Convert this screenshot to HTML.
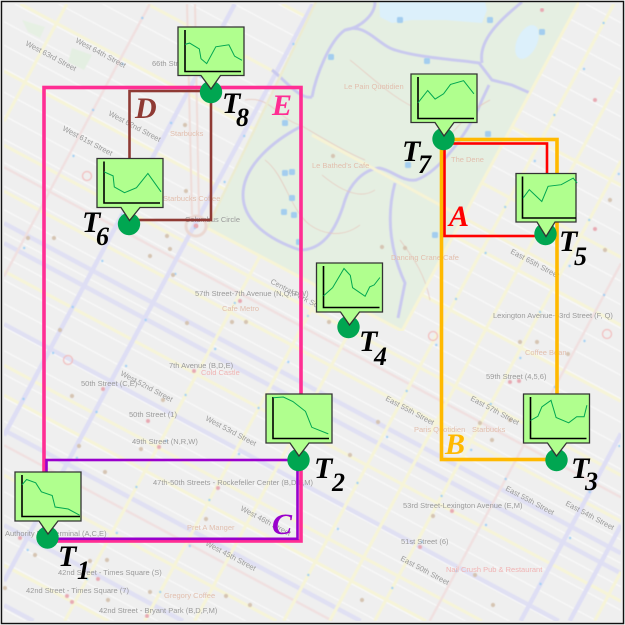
<!DOCTYPE html>
<html>
<head>
<meta charset="utf-8">
<title>Map with trajectory sparklines</title>
<style>
html,body{margin:0;padding:0;background:#fff;width:625px;height:625px;overflow:hidden}
svg{display:block}
.tag{font-family:"Liberation Serif",serif;font-weight:bold;font-style:italic;font-size:30px}
.sub{font-family:"Liberation Serif",serif;font-weight:bold;font-style:italic;font-size:26px;fill:#000}
.lbl{font-family:"Liberation Sans",sans-serif;font-size:7.5px;fill:#9a9a9a}
.poi{font-family:"Liberation Sans",sans-serif;font-size:7.5px;fill:#e2bfae}
.red{font-family:"Liberation Sans",sans-serif;font-size:7.5px;fill:#f0b4b4}
.box{fill:#b0ff8e;stroke:#333;stroke-width:1.3}
.axis{stroke:#000;stroke-width:1.6;fill:none}
.spark{stroke:#00a651;stroke-width:1;fill:none}
.pin{fill:#00a651}
</style>
</head>
<body>
<svg id="chart" width="625" height="625" viewBox="0 0 625 625" xmlns="http://www.w3.org/2000/svg">
  <defs>
    <filter id="soft" x="0" y="0" width="100%" height="100%"><feGaussianBlur stdDeviation="0.5"/></filter>
    <filter id="softtext" x="-5%" y="-5%" width="110%" height="110%"><feGaussianBlur stdDeviation="0.3"/></filter>
  </defs>

  <g>
    <rect x="0" y="0" width="625" height="625" fill="#efefef"/>
    <g id="streets" filter="url(#soft)"></g>
    <g filter="url(#soft)">
      <polygon points="316,2 207,228 402,331 579,2" fill="#e5efe2"/>
      <polygon points="22,20 45,27 40,38 28,32" fill="#e6f0e3"/>
      <polygon points="72,48 92,55 84,70 68,62" fill="#e4efe2"/>
      <path d="M379,2 L380,17 L392,23 L412,20 L445,20 L482,23 L487,10 L485,2 Z" fill="#dcf0fb"/>
      <ellipse cx="527" cy="42" rx="10" ry="18" transform="rotate(25 527 42)" fill="#dcf0fb"/>
      <g fill="none" stroke="#c9c9ee" stroke-width="3">
        <path d="M300,127 C275,140 243,165 243,195 C243,222 270,240 300,250 C320,250 335,235 345,200 C350,185 362,170 379,168 C392,170 402,182 416,180 C440,172 470,130 482,100 L489,85"/>
        <path d="M312,97 C316,75 330,40 345,30 C365,22 378,45 395,50 C420,58 460,60 479,63 L492,80 L512,85 L530,93"/>
        <path d="M482,63 C478,40 500,20 522,2"/>
        <path d="M345,30 C360,28 375,15 375,2"/>
        <path d="M395,183 C385,220 392,255 405,283 L398,318"/>
        <path d="M272,70 C285,80 300,100 312,97"/>
      </g>
      <g fill="none" stroke="#e6c4ba" stroke-width="0.7">
        <path d="M245,100 C270,95 280,120 300,125 C310,130 340,150 365,160"/>
        <path d="M265,160 C285,175 290,210 310,225 C320,232 340,240 360,225"/>
        <path d="M350,60 C375,80 395,100 420,110"/>
        <path d="M400,240 C415,260 425,275 430,300"/>
        <path d="M490,100 C470,110 460,125 450,135"/>
        <path d="M322,175 C340,190 360,200 375,190"/>
      </g>
      <path d="M207,228 L402,331" stroke="#f7f4d6" stroke-width="3" fill="none"/>
      <path d="M316,2 L207,228" stroke="#ecebd0" stroke-width="2.5" fill="none"/>
      <path d="M579,2 L402,331" stroke="#f7f4d6" stroke-width="3" fill="none"/>
      <path d="M312,135 L440,205 L560,270" stroke="#f6f3d5" stroke-width="3" fill="none"/>
      <circle cx="196" cy="226" r="10" fill="none" stroke="#ebd8d2" stroke-width="3"/>
      <circle cx="196" cy="226" r="2" fill="#eb9aa0"/>
    </g>
    <g id="dots" filter="url(#soft)"></g>
    <g filter="url(#softtext)">
      <text class="lbl" x="152" y="66">66th Street</text>
      <text class="poi" x="170" y="136">Starbucks</text>
      <text class="poi" x="163" y="201">Starbucks Coffee</text>
      <text class="poi" x="344" y="89">Le Pain Quotidien</text>
      <text class="poi" x="451" y="162">The Dene</text>
      <text class="poi" x="312" y="168">Le Bathed's Cafe</text>
      <text class="poi" x="391" y="260">Dancing Crane Cafe</text>
      <text class="lbl" x="195" y="296">57th Street-7th Avenue (N,Q,R,W)</text>
      <text class="poi" x="222" y="311">Cafe Metro</text>
      <text class="lbl" x="185" y="222">Columbus Circle</text>
      <text class="lbl" x="81" y="386">50th Street (C,E)</text>
      <text class="lbl" x="129" y="417">50th Street (1)</text>
      <text class="lbl" x="132" y="444">49th Street (N,R,W)</text>
      <text class="lbl" x="169" y="368">7th Avenue (B,D,E)</text>
      <text class="red" x="201" y="375">Cold Castle</text>
      <text class="lbl" x="153" y="485">47th-50th Streets - Rockefeller Center (B,D,F,M)</text>
      <text class="poi" x="187" y="530">Pret A Manger</text>
      <text class="lbl" x="58" y="575">42nd Street - Times Square (S)</text>
      <text class="lbl" x="26" y="593">42nd Street - Times Square (7)</text>
      <text class="lbl" x="99" y="613">42nd Street - Bryant Park (B,D,F,M)</text>
      <text class="lbl" x="5" y="536">Authority Bus Terminal (A,C,E)</text>
      <text class="poi" x="164" y="598">Gregory Coffee</text>
      <text class="lbl" x="493" y="318">Lexington Avenue-63rd Street (F, Q)</text>
      <text class="lbl" x="486" y="379">59th Street (4,5,6)</text>
      <text class="lbl" x="403" y="508">53rd Street-Lexington Avenue (E,M)</text>
      <text class="lbl" x="401" y="544">51st Street (6)</text>
      <text class="poi" x="472" y="432">Starbucks</text>
      <text class="red" x="446" y="572">Nail Crush Pub &amp; Restaurant</text>
      <text class="poi" x="414" y="432">Paris Quotidien</text>
      <text class="poi" x="525" y="355">Coffee Bean</text>
      <g>
        <text class="lbl" transform="translate(75,42) rotate(28)">West 64th Street</text>
        <text class="lbl" transform="translate(25,45) rotate(28)">West 63rd Street</text>
        <text class="lbl" transform="translate(108,115) rotate(28)">West 62nd Street</text>
        <text class="lbl" transform="translate(62,130) rotate(28)">West 61st Street</text>
        <text class="lbl" transform="translate(270,283) rotate(28)">Central Park South</text>
        <text class="lbl" transform="translate(120,375) rotate(28)">West 52nd Street</text>
        <text class="lbl" transform="translate(205,420) rotate(28)">West 53rd Street</text>
        <text class="lbl" transform="translate(240,510) rotate(28)">West 46th Street</text>
        <text class="lbl" transform="translate(205,545) rotate(28)">West 45th Street</text>
        <text class="lbl" transform="translate(385,400) rotate(28)">East 55th Street</text>
        <text class="lbl" transform="translate(470,400) rotate(28)">East 57th Street</text>
        <text class="lbl" transform="translate(400,560) rotate(28)">East 50th Street</text>
        <text class="lbl" transform="translate(505,490) rotate(28)">East 55th Street</text>
        <text class="lbl" transform="translate(565,505) rotate(28)">East 54th Street</text>
        <text class="lbl" transform="translate(510,253) rotate(28)">East 65th Street</text>
      </g>
    </g>
  </g>

  <g fill="none">
    <rect x="44" y="87.5" width="257" height="453.5" stroke="#ff2e93" stroke-width="3.6"/>
    <rect x="46.5" y="460" width="251" height="78.8" stroke="#9900cc" stroke-width="2.6"/>
    <rect x="129.5" y="91" width="81.5" height="129" stroke="#8f3a34" stroke-width="2.6"/>
    <rect x="441.5" y="139.5" width="115.5" height="320" stroke="#ffb900" stroke-width="3.6"/>
    <rect x="444.5" y="143.5" width="102.5" height="92.5" stroke="#ff0000" stroke-width="2.6"/>
  </g>

  <g>
    <text class="tag" x="449" y="226" fill="#ff0000">A</text>
    <text class="tag" x="445" y="454" fill="#ffb900">B</text>
    <text class="tag" x="272" y="534" fill="#9900cc">C</text>
    <text class="tag" x="135" y="118" fill="#8f3a34">D</text>
    <text class="tag" x="272" y="115" fill="#ff2e93">E</text>
  </g>

  <g>
    <circle class="pin" cx="47.5" cy="537.5" r="11.2"/>
    <circle class="pin" cx="298.5" cy="460" r="11.2"/>
    <circle class="pin" cx="556.5" cy="460" r="11.2"/>
    <circle class="pin" cx="348.5" cy="327" r="11.2"/>
    <circle class="pin" cx="545.5" cy="234" r="11.2"/>
    <circle class="pin" cx="129" cy="224" r="11.2"/>
    <circle class="pin" cx="443.5" cy="139" r="11.2"/>
    <circle class="pin" cx="211" cy="92" r="11.2"/>
  </g>

  <g transform="translate(15,472)">
    <path class="box" d="M0,0 H66 V49 H43 L33,62 L24,49 H0 Z"/>
    <path class="axis" d="M7,3 V44.5 H65"/>
    <polyline class="spark" id="spark-t1"/>
  </g>
  <g transform="translate(266,394)">
    <path class="box" d="M0,0 H66 V49 H43 L33,62 L24,49 H0 Z"/>
    <path class="axis" d="M7,3 V44.5 H63"/>
    <polyline class="spark" id="spark-t2"/>
  </g>
  <g transform="translate(523.5,394)">
    <path class="box" d="M0,0 H66 V49 H43 L33,62 L24,49 H0 Z"/>
    <path class="axis" d="M7,3 V44.5 H63"/>
    <polyline class="spark" id="spark-t3"/>
  </g>
  <g transform="translate(316.5,263)">
    <path class="box" d="M0,0 H66 V49 H43 L33,62 L24,49 H0 Z"/>
    <path class="axis" d="M7,3 V44.5 H63"/>
    <polyline class="spark" id="spark-t4"/>
  </g>
  <g transform="translate(516,173.5)">
    <path class="box" d="M0,0 H60 V48.5 H39 L30,63 L21,48.5 H0 Z"/>
    <path class="axis" d="M6.5,3 V44.5 H60"/>
    <polyline class="spark" id="spark-t5"/>
  </g>
  <g transform="translate(97,158.5)">
    <path class="box" d="M0,0 H66 V49 H43 L32.5,62 L24,49 H0 Z"/>
    <path class="axis" d="M7,3 V44.5 H63"/>
    <polyline class="spark" id="spark-t6"/>
  </g>
  <g transform="translate(411,74)">
    <path class="box" d="M0,0 H66 V48.5 H43 L33,62 L24,48.5 H0 Z"/>
    <path class="axis" d="M7,3 V44.5 H63"/>
    <polyline class="spark" id="spark-t7"/>
  </g>
  <g transform="translate(178,27)">
    <path class="box" d="M0,0 H66 V48.5 H42.5 L33,62 L23,48.5 H0 Z"/>
    <path class="axis" d="M7,3 V44.5 H63"/>
    <polyline class="spark" id="spark-t8"/>
  </g>

  <g>
    <g><text class="tag" x="58" y="566" fill="#000">T</text><text class="sub" x="77" y="579">1</text></g>
    <g><text class="tag" x="314" y="478" fill="#000">T</text><text class="sub" x="332" y="491">2</text></g>
    <g><text class="tag" x="571" y="478" fill="#000">T</text><text class="sub" x="585" y="490">3</text></g>
    <g><text class="tag" x="359" y="351" fill="#000">T</text><text class="sub" x="374" y="365">4</text></g>
    <g><text class="tag" x="559" y="251" fill="#000">T</text><text class="sub" x="574" y="265">5</text></g>
    <g><text class="tag" x="82" y="232" fill="#000">T</text><text class="sub" x="96" y="245">6</text></g>
    <g><text class="tag" x="402" y="161" fill="#000">T</text><text class="sub" x="418" y="173">7</text></g>
    <g><text class="tag" x="222" y="113" fill="#000">T</text><text class="sub" x="236" y="126">8</text></g>
  </g>

  <rect x="1.5" y="1.5" width="622" height="622" fill="none" stroke="#111" stroke-width="1.4"/>
</svg>

<script>
// Sparkline data: normalised time (0-100) and value (0-100)
var t1Times = [0, 8, 24, 34, 53, 58, 81, 101];
var t1Values = [76, 89, 81, 59, 50, 22, 17, 2];
var t2Times = [0, 18, 35, 57, 68, 97];
var t2Values = [98, 100, 89, 65, 26, 10];
var t3Times = [0, 13, 20, 36, 45, 67, 81, 94, 99];
var t3Values = [43, 53, 76, 92, 50, 37, 52, 52, 80];
var t4Times = [0, 16, 36, 47, 51, 73, 81, 89, 99];
var t4Values = [27, 47, 94, 77, 47, 26, 49, 54, 72];
var t5Times = [0, 11, 33, 44, 67, 88, 95];
var t5Values = [47, 68, 39, 76, 80, 96, 84];
var t6Times = [0, 16, 18, 36, 57, 77, 100];
var t6Values = [75, 65, 38, 24, 36, 71, 26];
var t7Times = [0, 17, 30, 45, 57, 80, 98];
var t7Values = [37, 67, 46, 59, 82, 91, 59];
var t8Times = [0, 8, 25, 28, 38, 54, 77, 87, 100];
var t8Values = [65, 68, 54, 30, 18, 59, 64, 36, 26];

function xAxis(t) { return 7 + t * 0.57; }
function yAxis(v) { return 44 - v * 0.41; }

function drawSpark(id, times, values) {
  var pts = [];
  for (var i = 0; i < times.length; i++) {
    pts.push(xAxis(times[i]).toFixed(1) + ',' + yAxis(values[i]).toFixed(1));
  }
  document.getElementById(id).setAttribute('points', pts.join(' '));
}
drawSpark('spark-t1', t1Times, t1Values);
drawSpark('spark-t2', t2Times, t2Values);
drawSpark('spark-t3', t3Times, t3Values);
drawSpark('spark-t4', t4Times, t4Values);
drawSpark('spark-t5', t5Times, t5Values);
drawSpark('spark-t6', t6Times, t6Values);
drawSpark('spark-t7', t7Times, t7Values);
drawSpark('spark-t8', t8Times, t8Values);

// Decorative base-map road network, every road clipped to the map frame
var NS = 'http://www.w3.org/2000/svg';
var streetsLayer = document.getElementById('streets');
var dotsLayer = document.getElementById('dots');
var SLOPE = 0.535;
var MIN = 4;
var MAX = 621;

function clipSegment(x1, y1, x2, y2) {
  var t0 = 0, t1 = 1;
  var dx = x2 - x1, dy = y2 - y1;
  var p = [-dx, dx, -dy, dy];
  var q = [x1 - MIN, MAX - x1, y1 - MIN, MAX - y1];
  for (var i = 0; i < 4; i++) {
    if (p[i] === 0) {
      if (q[i] < 0) { return null; }
      continue;
    }
    var r = q[i] / p[i];
    if (p[i] < 0) { t0 = Math.max(t0, r); } else { t1 = Math.min(t1, r); }
  }
  if (t0 >= t1) { return null; }
  return [x1 + t0 * dx, y1 + t0 * dy, x1 + t1 * dx, y1 + t1 * dy];
}
function addRoad(name, x1, y1, x2, y2, colour, width) {
  var seg = clipSegment(x1, y1, x2, y2);
  if (!seg) { return; }
  var el = document.createElementNS(NS, 'line');
  
  
  el.setAttribute('x1', seg[0].toFixed(1));
  el.setAttribute('y1', seg[1].toFixed(1));
  el.setAttribute('x2', seg[2].toFixed(1));
  el.setAttribute('y2', seg[3].toFixed(1));
  el.setAttribute('stroke', colour);
  el.setAttribute('stroke-width', width);
  streetsLayer.appendChild(el);
}
function addStreet(y0, colour, width) {
  addRoad('street', -900, y0 + SLOPE * (-900 - 312), 1500, y0 + SLOPE * (1500 - 312), colour, width);
}
function addAvenue(x0, colour, width) {
  addRoad('avenue', x0 + SLOPE * 912, -600, x0 - SLOPE * 1188, 1500, colour, width);
}
for (var y = -260; y < 900; y += 23.5) { addStreet(y, '#f9f9f9', 1.2); }
var lavenderStreets = [388, 408, 489, 595, 690, 770];
for (var a = 0; a < lavenderStreets.length; a++) { addStreet(lavenderStreets[a], '#e0e0f3', 4.5); }
var yellowStreets = [20, 92, 160, 236, 310, 356, 436, 530, 560, 640, 730, 800];
for (var b = 0; b < yellowStreets.length; b++) { addStreet(yellowStreets[b], '#f6f4d8', 3.2); }
addStreet(332, '#f0e0e0', 2.5);
addStreet(610, '#f0e0e0', 2.5);

var yellowAvenues = [-98, 230, 310, 360, 449, 495, 540, 760];
for (var c = 0; c < yellowAvenues.length; c++) { addAvenue(yellowAvenues[c], '#f6f4d8', 3.2); }
var lavenderAvenues = [70, 148, 686, 735];
for (var d = 0; d < lavenderAvenues.length; d++) { addAvenue(lavenderAvenues[d], '#dedef4', 4.5); }
addAvenue(-15, '#f0e0e0', 2.5);
addAvenue(595, '#f0e0e0', 2.5);

var broadway = document.createElementNS(NS, 'path');


broadway.setAttribute('d', 'M187,4 L192,215 M195,4 L199,215');
broadway.setAttribute('stroke', '#efdcd8');
broadway.setAttribute('stroke-width', '2');
broadway.setAttribute('fill', 'none');
streetsLayer.appendChild(broadway);

function isPark(px, py) {
  return (py - (228 + 0.53 * (px - 207))) < 0 &&
         px > 316 - (py * 0.478) &&
         px < 579 - (py * 0.535);
}
// Small transit markers along the avenues
var blueAvenues = [-15, 70, 150, 230, 310, 449, 540, 595, 686];
for (var e = 0; e < blueAvenues.length; e++) {
  for (var k = 0; k < 13; k++) {
    var py = 18 + k * 46 + (e * 13) % 30;
    var px = blueAvenues[e] - SLOPE * (py - 312) + ((k % 2) * 5);
    if (px < 4 || px > 620 || py > 620 || isPark(px, py)) { continue; }
    var dot = document.createElementNS(NS, 'circle');
    
    
    dot.setAttribute('cx', px.toFixed(1));
    dot.setAttribute('cy', py);
    dot.setAttribute('r', 1.2);
    dot.setAttribute('fill', '#a0d0f6');
    dotsLayer.appendChild(dot);
  }
}
// Cafe markers, icons and hospitals (map decoration)
var cafes = [[54,238],[167,236],[185,125],[186,191],[170,249],[173,275],[150,256],[28,238],[60,330],[187,323],[232,322],[246,322],[72,396],[163,400],[79,446],[141,449],[105,472],[206,519],[90,561],[107,560],[108,600],[150,592],[226,596],[250,605],[329,322],[378,422],[350,455],[480,423],[492,440],[510,420],[520,342],[537,342],[568,354],[433,516],[362,600],[350,628],[475,575],[493,605],[610,200],[605,250],[382,247],[405,248],[333,156],[35,555],[5,588]];
for (var f = 0; f < cafes.length; f++) {
  if (cafes[f][1] > 618) { continue; }
  var cafe = document.createElementNS(NS, 'circle');
  
  
  cafe.setAttribute('cx', cafes[f][0]);
  cafe.setAttribute('cy', cafes[f][1]);
  cafe.setAttribute('r', 2.1);
  cafe.setAttribute('fill', '#d5c4b2');
  dotsLayer.appendChild(cafe);
}
var parking = [[285,173],[292,172],[292,198],[294,215],[284,212],[299,242],[400,20],[490,20],[542,32],[427,61],[331,57],[488,134],[408,165],[435,235],[285,123]];
for (var g = 0; g < parking.length; g++) {
  var icon = document.createElementNS(NS, 'rect');
  
  
  icon.setAttribute('x', parking[g][0] - 3);
  icon.setAttribute('y', parking[g][1] - 3);
  icon.setAttribute('width', 6);
  icon.setAttribute('height', 6);
  icon.setAttribute('rx', 1.5);
  icon.setAttribute('fill', '#a3cdef');
  dotsLayer.appendChild(icon);
}
var hospitals = [[87,176],[68,360],[433,336],[607,334]];
for (var h = 0; h < hospitals.length; h++) {
  var cross = document.createElementNS(NS, 'circle');
  
  
  cross.setAttribute('cx', hospitals[h][0]);
  cross.setAttribute('cy', hospitals[h][1]);
  cross.setAttribute('r', 4.5);
  cross.setAttribute('fill', 'none');
  cross.setAttribute('stroke', '#f2bcbc');
  cross.setAttribute('stroke-width', 1.2);
  dotsLayer.appendChild(cross);
}
var stations = [[103,389],[148,421],[159,447],[194,371],[218,488],[20,538],[98,579],[67,596],[72,602],[147,616],[542,10],[510,382],[519,381],[452,511],[420,547],[595,100],[595,229],[196,226],[240,301]];
for (var s = 0; s < stations.length; s++) {
  var stop = document.createElementNS(NS, 'circle');
  
  
  stop.setAttribute('cx', stations[s][0]);
  stop.setAttribute('cy', stations[s][1]);
  stop.setAttribute('r', 2);
  stop.setAttribute('fill', '#e8aab3');
  dotsLayer.appendChild(stop);
}
</script>
</body>
</html>
